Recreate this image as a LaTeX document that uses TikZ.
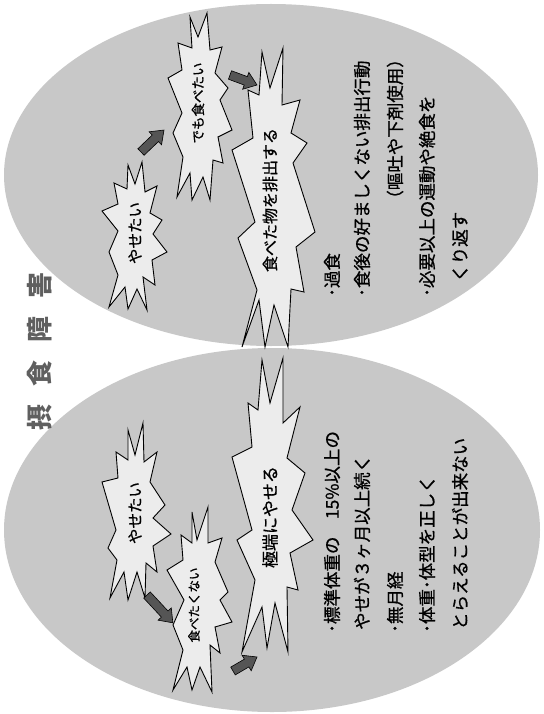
\documentclass[tikz,border=0pt]{standalone}
\usepackage{fontspec}
\newfontfamily\jp{Noto Sans CJK JP}[FakeBold=0.8]
\newfontfamily\jpt{Noto Sans CJK JP}
\definecolor{ellfill}{RGB}{200,200,200}
\definecolor{starfill}{RGB}{236,236,236}
\definecolor{arrfill}{RGB}{85,85,85}
\definecolor{titlecol}{RGB}{95,95,95}
\tikzset{
 starbox/.style={draw=black, line width=0.9pt, fill=starfill, line join=miter},
 blk/.style={draw=black, line width=0.6pt, fill=arrfill},
 pics/barrow/.style={code={\draw[blk] (0,-4.5) -- ({#1-12},-4.5) -- ({#1-12},-9) -- (#1,0) -- ({#1-12},9) -- ({#1-12},4.5) -- (0,4.5) -- cycle;}},
 startext/.style={font=\jp\fontsize{#1}{#1}\selectfont, rotate=90, inner sep=0pt},
 linetext/.style={font=\jp\fontsize{17.5}{17.5}\selectfont, rotate=90, inner sep=0pt},
 titletext/.style={font=\jpt\bfseries\fontsize{26}{26}\selectfont, text=titlecol, rotate=90, inner sep=0pt},
 ell/.style={fill=ellfill}
}
\begin{document}
\begin{tikzpicture}[x=1pt,y=-1pt]
\useasboundingbox (0,0) rectangle (543,714);
\fill[white] (0,0) rectangle (543,714);
% ellipses
\fill[ell] (271,175) ellipse [x radius=267pt, y radius=171pt];
\fill[ell] (272,530) ellipse [x radius=268pt, y radius=182pt];
% title
\node[titletext] (title) at (40,351) {摂\hspace{18pt}食\hspace{18pt}障\hspace{18pt}害};
% ---- top ellipse stars
\draw[starbox] (128,165) -- (135,184) -- (142,162) -- (145,192) -- (157,186) -- (150,213) -- (162,220) -- (153,234) -- (167,252) -- (152,260) -- (155,285) -- (143,277) -- (147,310) -- (137,289) -- (128,309) -- (125,287) -- (109,307) -- (118,275) -- (109,252) -- (118,231) -- (102,211) -- (118,204) -- (114,183) -- (127,189) -- cycle;
\draw[starbox] (190,17) -- (198,37) -- (207,13) -- (210,50) -- (222,47) -- (215,73) -- (228,88) -- (220,100) -- (232,130) -- (218,137) -- (223,163) -- (213,160) -- (210,200) -- (203,177) -- (192,200) -- (190,173) -- (177,197) -- (183,157) -- (173,133) -- (182,113) -- (168,78) -- (182,70) -- (178,43) -- (192,48) -- cycle;
\draw[starbox] (262,52) -- (270,88) -- (283,48) -- (282,105) -- (300,100) -- (291,133) -- (307,143) -- (293,163) -- (315,232) -- (296,247) -- (304,292) -- (291,289) -- (288,347) -- (274,305) -- (265,347) -- (259,300) -- (242,347) -- (257,290) -- (238,238) -- (255,222) -- (232,150) -- (253,138) -- (248,90) -- (259,95) -- cycle;
% ---- bottom ellipse stars
\draw[starbox] (128,430) -- (135,455) -- (143,423) -- (144,462) -- (157,452) -- (150,482) -- (165,505) -- (153,518) -- (171,534) -- (153,546) -- (157,572) -- (146,563) -- (145,598) -- (137,572) -- (128,600) -- (124,572) -- (110,598) -- (117,560) -- (108,548) -- (116,530) -- (102,482) -- (118,478) -- (116,452) -- (128,460) -- cycle;
\draw[starbox] (192,512) -- (197,540) -- (208,507) -- (208,543) -- (222,538) -- (215,562) -- (228,592) -- (220,600) -- (232,622) -- (215,627) -- (220,653) -- (210,645) -- (212,692) -- (200,667) -- (192,690) -- (187,667) -- (173,690) -- (183,650) -- (173,625) -- (184,600) -- (167,570) -- (183,560) -- (181,535) -- (192,543) -- cycle;
\draw[starbox] (262,360) -- (270,403) -- (283,358) -- (283,423) -- (300,407) -- (287,458) -- (305,473) -- (292,510) -- (313,540) -- (290,553) -- (298,590) -- (287,587) -- (288,652) -- (275,603) -- (267,648) -- (262,607) -- (242,652) -- (255,580) -- (237,540) -- (252,530) -- (232,457) -- (252,447) -- (248,403) -- (258,410) -- cycle;
% star texts
\node[startext=15.5] (s1) at (135,233) {やせたい};
\node[startext=13.5] (s2) at (198,103) {でも食べたい};
\node[startext=16] (s3) at (270,200) {食べた物を排出する};
\node[startext=15.5] (s4) at (135,513) {やせたい};
\node[startext=12.5] (s5) at (194,605) {食べたくない};
\node[startext=17] (s6) at (270,517) {極端にやせる};
% block arrows
\coordinate (a1) at (141,152);
\coordinate (a2) at (230,75);
\coordinate (a3) at (147,595);
\coordinate (a4) at (233,671);
\pic[rotate=43.7] at (a1) {barrow=31.8};
\pic[rotate=-20.3] at (a2) {barrow=28.8};
\pic[rotate=-47.1] at (a3) {barrow=38};
\pic[rotate=30.3] at (a4) {barrow=27.8};
% top ellipse text
\node[linetext, anchor=west] (t1) at (332,297) {･過食};
\node[linetext, anchor=west] (t2) at (362,297) {･食後の好ましくない排出行動};
\node[linetext, anchor=east] (t3) at (395,50) {（嘔吐や下剤使用）};
\node[linetext, anchor=west] (t4) at (427,297) {･必要以上の運動や絶食を};
\node[linetext, anchor=west] (t5) at (460,282) {くり返す};
% bottom ellipse text
\node[linetext, anchor=west] (b1) at (332,633) {･標準体重の　15\%以上の};
\node[linetext, anchor=west] (b2) at (362,630) {やせが３ヶ月以上続く};
\node[linetext, anchor=west] (b3) at (395,633) {･無月経};
\node[linetext, anchor=west] (b4) at (427,633) {･体重･体型を正しく};
\node[linetext, anchor=west] (b5) at (460,630) {とらえることが出来ない};
\end{tikzpicture}
\end{document}
